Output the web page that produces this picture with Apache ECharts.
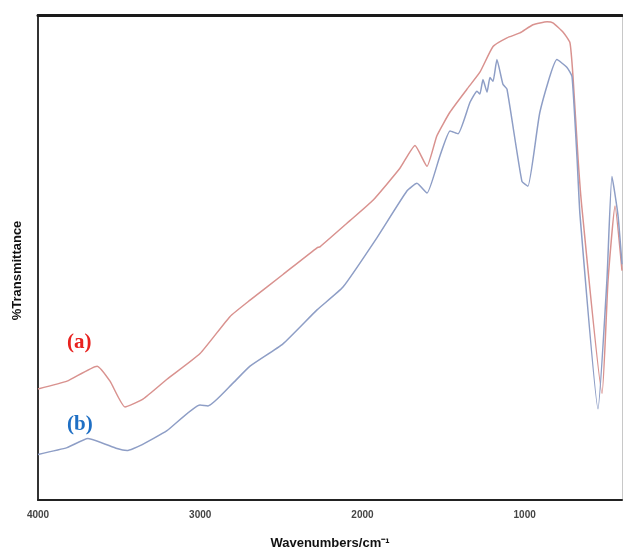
<!DOCTYPE html>
<html>
<head>
<meta charset="utf-8">
<script src="https://cdn.jsdelivr.net/npm/echarts@6/dist/echarts.min.js"></script>
<style>html,body{margin:0;padding:0;background:#fff}#c{width:623px;height:555px}</style>
</head>
<body>
<div id="c"></div>
<script>
// Wavenumbers (cm^-1) and %Transmittance (arbitrary 0-100 scale)
const wnA = [4000,3821,3636,3556,3464,3353,3205,3001,2817,2693,2490,2280,2262,2077,1935,1769,1676,1602,1541,1460,1356,1276,1195,1109,1029,949,862,826,764,721,702,671,647,523,486,443,400];
const tA  = [22.9,24.5,27.6,24.5,19.2,20.8,24.9,30.2,37.8,41.2,46.5,52.0,52.2,57.6,61.8,68.4,73.1,68.8,75.1,80.0,84.7,88.2,93.5,95.3,96.3,98.0,98.6,98.4,96.5,94.3,87.3,70.4,60.2,22.0,45.3,60.6,47.3];
const wnB = [4000,3821,3692,3513,3451,3371,3205,3001,2952,2798,2693,2490,2280,2120,1910,1726,1664,1602,1522,1460,1411,1337,1294,1276,1257,1232,1214,1195,1171,1134,1109,1017,980,906,801,739,708,677,659,548,493,462,425,400];
const tB  = [9.4,10.8,12.7,10.6,10.2,11.2,14.3,19.6,19.4,24.1,27.6,32.2,39.2,43.9,54.1,63.7,65.3,63.3,71.0,76.1,75.5,82.0,84.3,83.7,86.7,84.1,87.1,86.3,90.8,85.7,84.7,65.7,64.7,80.0,90.8,89.2,87.3,70.4,58.8,18.8,45.3,66.7,58.8,48.6];
const xTicks = [4000,3000,2000,1000];
const seriesNames = ['(a)','(b)'];

const chart = echarts.init(document.getElementById('c'));
chart.setOption({
  animation: false,
  grid: {left: 38, right: 1, top: 15, bottom: 50, containLabel: false},
  xAxis: [{
    type: 'value', inverse: true, min: 400, max: 4000,
    axisLine: {show: true, onZero: false, lineStyle: {color: '#222', width: 2}},
    axisTick: {show: false},
    splitLine: {show: false},
    axisLabel: {customValues: xTicks, formatter: v => String(v), color: '#444', fontSize: 10, fontWeight: 'bold', fontFamily: 'Liberation Sans', margin: 10},
    name: 'Wavenumbers/cm⁻¹', nameLocation: 'middle', nameGap: 37,
    nameTextStyle: {fontSize: 13, fontWeight: 'bold', color: '#111', fontFamily: 'Liberation Sans'}
  }, {
    type: 'value', inverse: true, min: 400, max: 4000, position: 'top',
    axisLine: {show: true, onZero: false, lineStyle: {color: '#1a1a1a', width: 3}},
    axisTick: {show: false}, axisLabel: {show: false}, splitLine: {show: false}
  }],
  yAxis: [{
    type: 'value', min: 0, max: 100,
    axisLine: {show: true, onZero: false, lineStyle: {color: '#333', width: 2}},
    axisTick: {show: false}, axisLabel: {show: false}, splitLine: {show: false},
    name: '%Transmittance', nameLocation: 'middle', nameGap: 14,
    nameTextStyle: {fontSize: 13, fontWeight: 'bold', color: '#111', fontFamily: 'Liberation Sans', padding: [0, 26, 0, 0]}
  }, {
    type: 'value', min: 0, max: 100, position: 'right',
    axisLine: {show: true, onZero: false, lineStyle: {color: '#c8c8c8', width: 1}},
    axisTick: {show: false}, axisLabel: {show: false}, splitLine: {show: false}
  }],
  series: [{
    name: seriesNames[0], type: 'line', showSymbol: false, smooth: 0.15,
    data: wnA.map((w, i) => [w, tA[i]]),
    lineStyle: {color: '#d9928f', width: 1.5}
  }, {
    name: seriesNames[1], type: 'line', showSymbol: false, smooth: 0.15,
    data: wnB.map((w, i) => [w, tB[i]]),
    lineStyle: {color: '#8e9ec6', width: 1.5}
  }],
  graphic: [
    {type: 'text', left: 67, top: 332, style: {text: seriesNames[0], fill: '#e8221f', font: 'bold 21px "Liberation Serif"'}},
    {type: 'text', left: 67, top: 414, style: {text: seriesNames[1], fill: '#1f6fc4', font: 'bold 21px "Liberation Serif"'}}
  ]
});
</script>
</body>
</html>
